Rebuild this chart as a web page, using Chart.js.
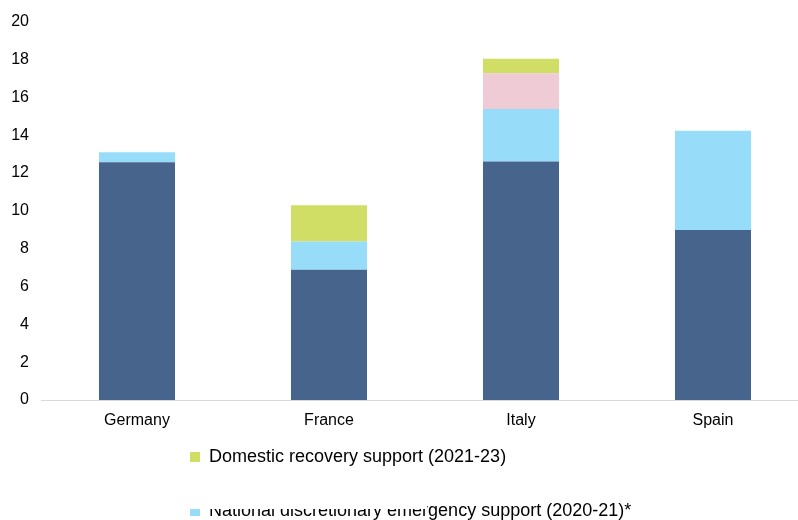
<!DOCTYPE html>
<html>
<head>
<meta charset="utf-8">
<script src="https://cdn.jsdelivr.net/npm/chart.js@4.4.1/dist/chart.umd.min.js"></script>
<style>
  html, body { margin: 0; padding: 0; background: #ffffff; }
  #wrap { width: 798px; height: 520px; overflow: hidden; position: relative; }
  canvas { display: block; }
</style>
</head>
<body>
<div id="wrap"><canvas id="c" width="812" height="548"></canvas></div>
<script>
const categories = ['Germany', 'France', 'Italy', 'Spain'];
const baseValues = [12.56, 6.88, 12.61, 8.99];
const emergencyValues = [0.53, 1.50, 2.77, 5.24];
const otherValues = [null, null, 1.89, null];
const recoveryValues = [null, 1.91, 0.77, null];
const yMin = 0, yMax = 20, yStep = 2;

const FONT = "'Liberation Sans', Arial, Helvetica, sans-serif";

const legendPlacer = {
  id: 'legendPlacer',
  afterLayout(chart) {
    const lg = chart.legend;
    if (!lg) return;
    const h = lg.height, w = lg.width;
    lg.top = 412; lg.bottom = 412 + h;
    lg.left = 154; lg.right = 154 + w;
  },
  afterDraw(chart) {
    const ctx = chart.ctx;
    ctx.save();
    ctx.fillStyle = '#ffffff';
    ctx.fillRect(184, 482, 243, 27);
    ctx.restore();
  }
};

new Chart(document.getElementById('c'), {
  type: 'bar',
  data: {
    labels: categories,
    datasets: [
      { label: 'Other measures', data: baseValues, backgroundColor: '#47658c' },
      { label: 'National discretionary emergency support (2020-21)*', data: emergencyValues, backgroundColor: '#97dcf8' },
      { label: 'Additional measures', data: otherValues, backgroundColor: '#eecbd5' },
      { label: 'Domestic recovery support (2021-23)', data: recoveryValues, backgroundColor: '#d0de66' }
    ]
  },
  options: {
    responsive: false,
    animation: false,
    devicePixelRatio: 1,
    layout: { padding: { top: 17, right: 3, left: 0, bottom: 0 } },
    datasets: { bar: { categoryPercentage: 0.4, barPercentage: 0.99, borderWidth: 0 } },
    scales: {
      x: {
        stacked: true,
        grid: { display: false, drawTicks: false },
        border: { display: true, color: '#d9d9d9', width: 1 },
        ticks: { color: '#000000', font: { family: FONT, size: 16 }, padding: 11 },
        afterFit(s) { s.height = 30; }
      },
      y: {
        stacked: true,
        min: yMin, max: yMax,
        grid: { display: false, drawTicks: false },
        border: { display: false },
        ticks: { stepSize: yStep, color: '#000000', font: { family: FONT, size: 16 }, padding: 12 },
        afterFit(s) { s.width = 41; }
      }
    },
    plugins: {
      tooltip: { enabled: false },
      legend: {
        position: 'bottom',
        align: 'start',
        labels: {
          color: '#000000',
          font: { family: FONT, size: 18 },
          boxWidth: 10,
          boxHeight: 10,
          padding: 36,
          filter: (item) => item.datasetIndex === 1 || item.datasetIndex === 3,
          sort: (a, b) => b.datasetIndex - a.datasetIndex
        }
      }
    }
  },
  plugins: [legendPlacer]
});
</script>
</body>
</html>
